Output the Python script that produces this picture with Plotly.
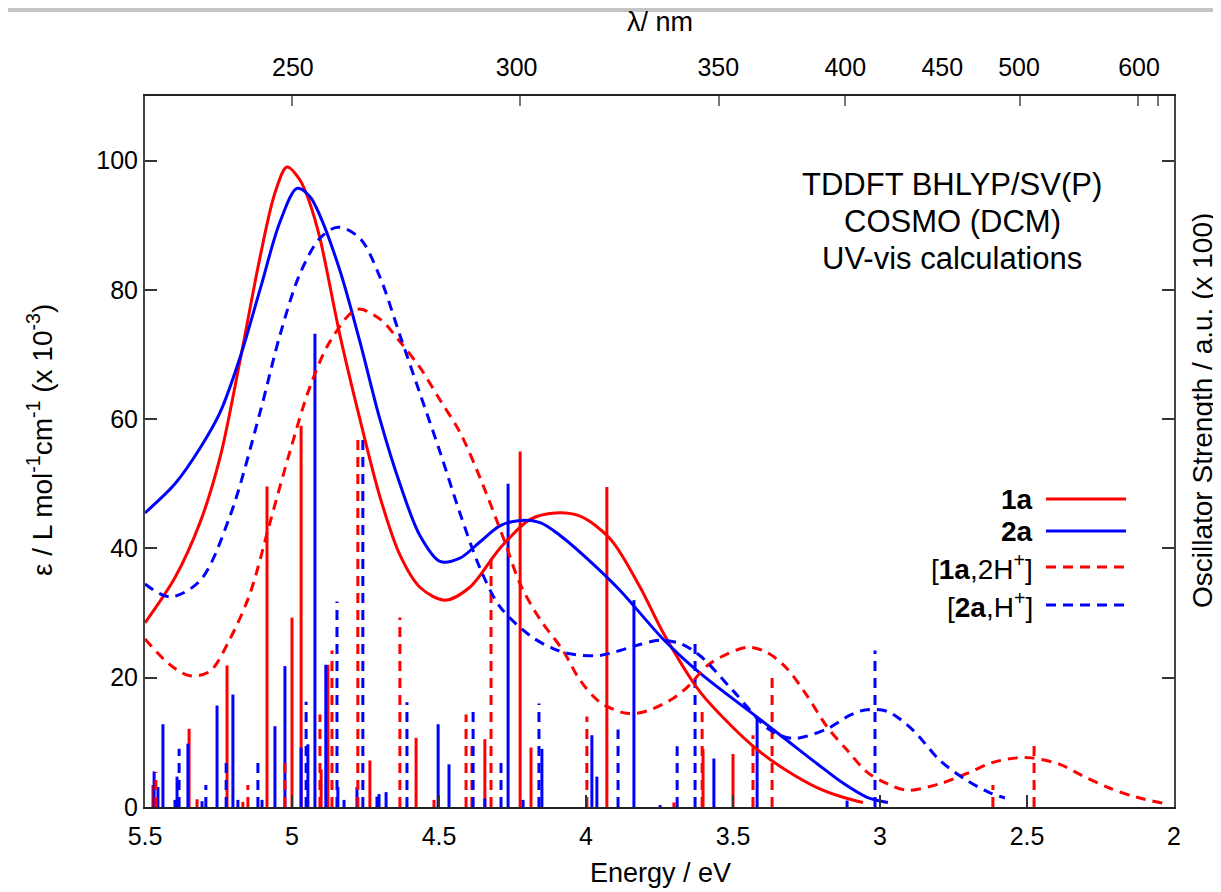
import plotly.graph_objects as go

# ---------------- data ----------------
# broadened spectra (energy in eV, epsilon x 1e-3)
e_1a = [5.500, 5.398, 5.313, 5.245, 5.177, 5.109, 5.058, 5.017, 4.973, 4.940, 4.905, 4.837, 4.769, 4.701,
        4.633, 4.565, 4.480, 4.395, 4.293, 4.190, 4.105, 4.020, 3.918, 3.816, 3.738, 3.612, 3.500, 3.418,
        3.330, 3.214, 3.126, 3.058]
eps_1a = [28.5, 35.5, 44, 54, 69, 85, 95, 99, 97, 93.5, 88, 73, 60, 48,
          39, 34, 32, 34, 40, 44.5, 45.5, 45, 41.5, 34, 27, 17.8, 12.3, 8.9,
          6.0, 3.0, 1.5, 0.7]

e_2a = [5.500, 5.398, 5.313, 5.245, 5.177, 5.109, 5.041, 4.983, 4.940, 4.905, 4.837, 4.769, 4.701, 4.633,
        4.565, 4.497, 4.429, 4.361, 4.293, 4.231, 4.156, 4.088, 3.986, 3.884, 3.738, 3.612, 3.418, 3.330,
        3.214, 3.126, 3.044, 2.973]
eps_2a = [45.5, 50, 55.5, 61, 69.5, 80, 90.5, 95.7, 94.5, 91.5, 83, 72, 60, 50,
          42, 38, 38.5, 41, 43.5, 44.3, 44, 42, 38, 33.5, 26, 20.7, 13.9, 10.8,
          6.7, 3.7, 1.5, 0.7]

e_1a2h = [5.500, 5.415, 5.347, 5.279, 5.211, 5.143, 5.075, 5.007, 4.939, 4.871, 4.779, 4.701, 4.633, 4.565,
          4.497, 4.429, 4.361, 4.276, 4.224, 4.156, 4.078, 4.020, 3.952, 3.874, 3.827, 3.772, 3.704, 3.656,
          3.578, 3.452, 3.384, 3.316, 3.248, 3.180, 3.112, 3.044, 2.976, 2.908, 2.796, 2.704, 2.616, 2.534,
          2.483, 2.388, 2.310, 2.218, 2.126, 2.037]
eps_1a2h = [26, 22, 20.3, 21, 26, 33, 44, 55, 65, 72, 77, 75.5, 72, 68,
            63, 58, 51, 41, 34.5, 29, 24.2, 19.6, 16.2, 14.6, 14.5, 15.2, 16.8, 18.5,
            22.2, 24.7, 23.9, 21.4, 17.2, 12.4, 8.8, 5.4, 3.6, 2.6, 3.6, 5.2, 6.9, 7.6,
            7.6, 6.6, 4.8, 2.9, 1.5, 0.6]

e_2ah = [5.500, 5.415, 5.313, 5.211, 5.109, 5.041, 4.973, 4.905, 4.844, 4.769, 4.701, 4.633, 4.565, 4.497,
         4.429, 4.361, 4.293, 4.190, 4.112, 4.054, 3.963, 3.908, 3.827, 3.748, 3.680, 3.612, 3.500, 3.374,
         3.296, 3.180, 3.102, 3.051, 2.976, 2.888, 2.796, 2.704, 2.626, 2.575]
eps_2ah = [34.5, 32.5, 35, 45, 61, 73, 82.5, 88, 89.7, 88, 82, 73, 64, 55,
           45.5, 37, 31, 26.5, 24.5, 23.7, 23.4, 23.9, 25, 25.8, 25.3, 23.4, 18, 11.9,
           10.6, 12.1, 14.2, 15, 14.8, 11.9, 7.2, 4.1, 2.2, 1.4]

# oscillator strengths (x 100) as sticks
stick_e_1a = [5.473, 5.350, 5.323, 5.221, 5.167, 5.085, 5.000, 4.969, 4.901, 4.878, 4.735, 4.578, 4.517,
              4.344, 4.224, 4.187, 3.929, 3.701, 3.602, 3.500]
stick_f_1a = [3.4, 12.1, 1.2, 21.9, 0.8, 49.6, 29.3, 59.0, 5.8, 22.0, 7.2, 10.7, 1.1,
              10.5, 55.0, 9.2, 49.5, 0.7, 9.0, 8.2]

stick_e_2a = [5.469, 5.456, 5.439, 5.398, 5.391, 5.354, 5.306, 5.255, 5.201, 5.184, 5.102, 5.058, 5.024,
              4.969, 4.946, 4.922, 4.885, 4.844, 4.823, 4.779, 4.711, 4.704, 4.680, 4.503, 4.466, 4.344,
              4.265, 4.214, 4.150, 3.980, 3.963, 3.837, 3.748, 3.565, 3.418, 3.112]
stick_f_2a = [5.5, 3.1, 12.8, 1.1, 4.7, 9.8, 0.9, 15.7, 17.4, 1.1, 1.1, 12.5, 21.8,
              9.2, 9.7, 73.2, 22.0, 3.1, 1.1, 3.1, 1.6, 2.0, 2.3, 12.8, 6.6, 1.3,
              50.0, 1.1, 9.0, 11.1, 4.7, 32.0, 0.3, 7.5, 13.9, 1.0]

stick_e_1a2h = [5.463, 5.150, 5.024, 4.905, 4.864, 4.776, 4.633, 4.408, 4.388, 4.323, 3.997, 3.605,
                3.432, 3.367, 2.616, 2.476]
stick_f_1a2h = [5.4, 3.4, 7.7, 14.3, 24.2, 57.7, 29.3, 14.3, 10.0, 38.6, 14.0, 15.5,
                11.1, 20.6, 3.4, 10.0]

stick_e_2ah = [5.384, 5.293, 5.224, 5.116, 4.952, 4.847, 4.759, 4.609, 4.384, 4.289, 4.160, 3.891,
               3.690, 3.629, 3.017]
stick_f_2ah = [9.0, 3.4, 7.7, 7.7, 16.3, 31.8, 57.5, 16.2, 15.6, 7.6, 16.0, 12.0,
               9.4, 26.0, 24.2]

energy_ticks = [5.5, 5.0, 4.5, 4.0, 3.5, 3.0, 2.5, 2.0]
energy_ticktext = ["5.5", "5", "4.5", "4", "3.5", "3", "2.5", "2"]
eps_ticks = [0, 20, 40, 60, 80, 100]
lambda_label_e = [4.997, 4.236, 3.550, 3.118, 2.788, 2.527, 2.119]
lambda_labels = ["250", "300", "350", "400", "450", "500", "600"]
lambda_tick_e = [5.000, 4.226, 3.546, 3.118, 2.523, 2.122, 2.055]

legend_names = ["<b>1a</b>", "<b>2a</b>", "[<b>1a</b>,2H<sup>+</sup>]", "[<b>2a</b>,H<sup>+</sup>]"]
title_lines = ["TDDFT BHLYP/SV(P)", "COSMO (DCM)", "UV-vis calculations"]

RED = "#ff0000"
BLUE = "#0000ff"
FONT = "Liberation Sans, Arial, Helvetica, sans-serif"
DASH = "10px,7px"


def sticks(es, fs):
    xs, ys = [], []
    for e, f in zip(es, fs):
        xs += [e, e, None]
        ys += [0, f, None]
    return xs, ys


fig = go.Figure()

stick_sets = [
    (stick_e_1a, stick_f_1a, RED, "solid"),
    (stick_e_2a, stick_f_2a, BLUE, "solid"),
    (stick_e_1a2h, stick_f_1a2h, RED, DASH),
    (stick_e_2ah, stick_f_2ah, BLUE, DASH),
]
for es, fs, col, dash in stick_sets:
    xs, ys = sticks(es, fs)
    fig.add_trace(go.Scatter(x=xs, y=ys, mode="lines", showlegend=False, hoverinfo="skip",
                             line=dict(color=col, width=3, dash=dash)))

curve_sets = [
    (e_1a, eps_1a, RED, "solid"),
    (e_2a, eps_2a, BLUE, "solid"),
    (e_1a2h, eps_1a2h, RED, DASH),
    (e_2ah, eps_2ah, BLUE, DASH),
]
for es, ys, col, dash in curve_sets:
    fig.add_trace(go.Scatter(x=es, y=ys, mode="lines", showlegend=False, hoverinfo="skip",
                             line=dict(color=col, width=3, dash=dash, shape="spline", smoothing=0.9)))

# invisible traces so the top axes are drawn
fig.add_trace(go.Scatter(x=lambda_label_e, y=[None] * len(lambda_label_e), xaxis="x2",
                         mode="markers", showlegend=False, hoverinfo="skip"))
fig.add_trace(go.Scatter(x=lambda_tick_e, y=[None] * len(lambda_tick_e), xaxis="x3",
                         mode="markers", showlegend=False, hoverinfo="skip"))

# page has an 8px body margin: figure is sized so the plot area lands where the reference has it
fig.update_layout(
    width=1213, height=884,
    margin=dict(l=137, r=47, t=88, b=85),
    paper_bgcolor="white", plot_bgcolor="white",
    font=dict(family=FONT, size=25, color="black"),
    xaxis=dict(range=[5.5, 2.0], tickvals=energy_ticks, ticktext=energy_ticktext,
               ticks="inside", ticklen=12, tickwidth=2, tickcolor="#333",
               showline=True, linecolor="#222", linewidth=2, mirror=False,
               tickfont=dict(size=25), ticklabelstandoff=6,
               showgrid=False, zeroline=False),
    xaxis2=dict(range=[5.5, 2.0], overlaying="x", side="top", anchor="y",
                tickvals=lambda_label_e, ticktext=lambda_labels, ticks="",
                showline=True, linecolor="#222", linewidth=2,
                tickfont=dict(size=25), ticklabelstandoff=8,
                showgrid=False, zeroline=False),
    xaxis3=dict(range=[5.5, 2.0], overlaying="x", side="top", anchor="y",
                tickvals=lambda_tick_e, showticklabels=False,
                ticks="inside", ticklen=10, tickwidth=2, tickcolor="#777",
                showline=False, showgrid=False, zeroline=False),
    yaxis=dict(range=[0, 110], tickvals=eps_ticks, ticks="inside", ticklen=12, tickwidth=2,
               tickcolor="#333", showline=True, linecolor="#444", linewidth=2, mirror="ticks",
               tickfont=dict(size=25), showgrid=False, zeroline=False),
)

# helpers: screen pixel -> paper coordinates (plot area spans x 145..1174, y 96..807 on screen)
PX0, PW, PY0, PH = 145, 1029, 96, 711


def px_x(px):
    return (px - PX0) / PW


def px_y(py):
    return (PY0 + PH - py) / PH


annotations = [
    dict(text="λ/ nm", x=px_x(660), y=px_y(22), font=dict(size=27)),
    dict(text="Energy / eV", x=px_x(660), y=px_y(873), font=dict(size=27)),
    dict(text="ε / L mol<sup>-1</sup>cm<sup>-1</sup> (x 10<sup>-3</sup>)", x=px_x(40), y=px_y(440),
         textangle=-90, font=dict(size=28)),
    dict(text="Oscillator Strength / a.u. (x 100)", x=px_x(1202), y=px_y(411),
         textangle=-90, font=dict(size=28)),
]
for line, py in zip(title_lines, [185, 221, 258]):
    annotations.append(dict(text=line, x=px_x(952), y=px_y(py), font=dict(size=31)))

legend_y = [499, 531, 567, 605]
legend_style = [(RED, "solid"), (BLUE, "solid"), (RED, DASH), (BLUE, DASH)]
shapes = []
for name, py, (col, dash) in zip(legend_names, legend_y, legend_style):
    annotations.append(dict(text=name, x=px_x(1035), y=px_y(py), xanchor="right",
                            font=dict(size=28)))
    shapes.append(dict(type="line", xref="paper", yref="paper",
                       x0=px_x(1046), x1=px_x(1126), y0=px_y(py), y1=px_y(py),
                       line=dict(color=col, width=3, dash=dash)))

# grey band at the very top of the image
shapes.append(dict(type="rect", xref="paper", yref="paper", x0=px_x(0), x1=px_x(1230),
                   y0=px_y(12), y1=px_y(8), line=dict(width=0), fillcolor="#c4c4c4", layer="below"))

for a in annotations:
    a.update(xref="paper", yref="paper", showarrow=False)
    a.setdefault("xanchor", "center")
    a.setdefault("yanchor", "middle")

fig.update_layout(annotations=annotations, shapes=shapes)

fig.write_html("out.html")
